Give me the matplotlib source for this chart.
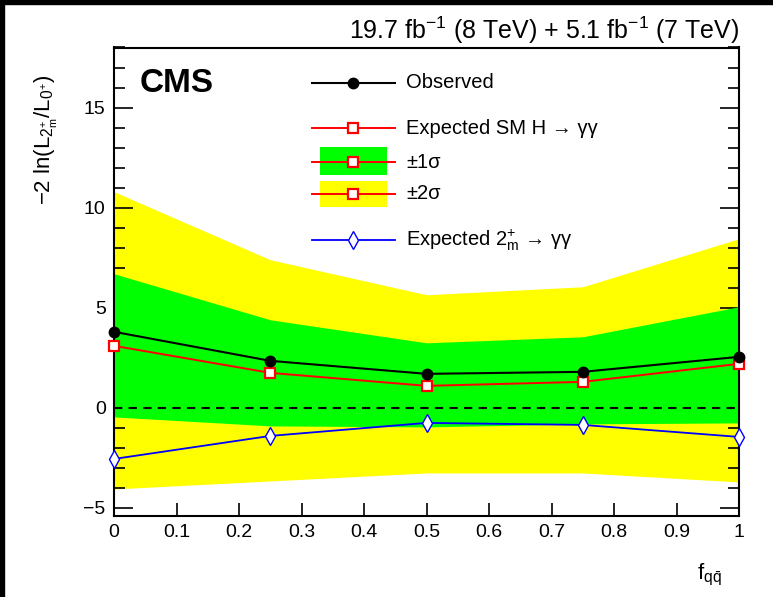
import matplotlib
matplotlib.use("Agg")
import matplotlib.pyplot as plt
from matplotlib.lines import Line2D
from matplotlib.patches import Rectangle
from matplotlib.ticker import MultipleLocator

plt.rcParams["font.family"] = ["Liberation Sans", "DejaVu Sans"]
plt.rcParams["mathtext.fontset"] = "custom"
plt.rcParams["mathtext.rm"] = "Liberation Sans"
plt.rcParams["mathtext.it"] = "Liberation Sans:italic"
plt.rcParams["mathtext.bf"] = "Liberation Sans:bold"
plt.rcParams["mathtext.sf"] = "Liberation Sans"

# Scan points in the q-qbar production fraction
f_qq = [0.0, 0.25, 0.5, 0.75, 1.0]

# Test statistic -2 ln(L_2m+/L_0+)
observed = [3.8, 2.35, 1.7, 1.8, 2.55]
expected_sm = [3.1, 1.75, 1.1, 1.3, 2.2]
expected_2m = [-2.55, -1.4, -0.75, -0.85, -1.45]

# SM expectation bands
sm_1sig_lo = [-0.45, -0.9, -0.95, -0.8, -0.75]
sm_1sig_hi = [6.7, 4.4, 3.25, 3.55, 5.05]
sm_2sig_lo = [-4.05, -3.65, -3.25, -3.25, -3.7]
sm_2sig_hi = [10.8, 7.4, 5.65, 6.05, 8.45]

x_ticks = [0, 0.1, 0.2, 0.3, 0.4, 0.5, 0.6, 0.7, 0.8, 0.9, 1]
x_ticklabels = ["0", "0.1", "0.2", "0.3", "0.4", "0.5", "0.6", "0.7", "0.8", "0.9", "1"]
y_ticks = [-5, 0, 5, 10, 15]

W, H = 773, 597
fig = plt.figure(figsize=(W / 100, H / 100), dpi=100)


def fx(px):
    return px / W


def fy(py):
    return 1 - py / H


# dark frame remnants at the edges of the canvas
fig.patches.append(Rectangle((0, 0), fx(4), 1, transform=fig.transFigure,
                             color="black", zorder=-10))
fig.patches.append(Rectangle((0, fy(4)), 1, 4 / H, transform=fig.transFigure,
                             color="black", zorder=-10))

ax = fig.add_axes([fx(114), fy(516), fx(739) - fx(114), fy(47.5) - fy(516)])

GREEN = "#00ff00"
YELLOW = "#ffff00"

ax.fill_between(f_qq, sm_2sig_lo, sm_2sig_hi, color=YELLOW, lw=0, zorder=1)
ax.fill_between(f_qq, sm_1sig_lo, sm_1sig_hi, color=GREEN, lw=0, zorder=2)
ax.axhline(0, color="black", lw=1.5, ls=(0, (4, 3)), zorder=3)

ax.plot(f_qq, expected_2m, color="#0000ff", lw=1.3, marker="d", ms=9,
        mfc="white", mec="#0000ff", mew=1.0, zorder=4, clip_on=False)
ax.plot(f_qq, expected_sm, color="#ff0000", lw=1.4, marker="s", ms=7,
        mfc="white", mec="#ff0000", mew=1.6, zorder=5, clip_on=False)
ax.plot(f_qq, observed, color="black", lw=1.5, marker="o", ms=7.5,
        mfc="black", mec="black", zorder=6, clip_on=False)

ax.set_xlim(0, 1)
ax.set_ylim(-5.4, 18)
ax.set_xticks(x_ticks)
ax.set_xticklabels(x_ticklabels)
ax.set_yticks(y_ticks)
ax.yaxis.set_minor_locator(MultipleLocator(1))
ax.tick_params(axis="both", which="both", direction="in", width=1.2,
               labelsize=14, colors="black")
ax.tick_params(axis="y", which="major", length=13.5, right=True, pad=6)
ax.tick_params(axis="y", which="minor", length=8, right=True)
ax.tick_params(axis="x", which="major", length=9.5, top=False, pad=6)
for s in ax.spines.values():
    s.set_linewidth(1.5)

# Legend
lx0, lx1, lmk = 312, 395, 353
tx = 406
fs = 14.5
rows = [83, 128, 162, 194, 240]

fig.add_artist(Line2D([fx(lx0), fx(lx1)], [fy(rows[0])] * 2, transform=fig.transFigure,
                      color="black", lw=1.5))
fig.add_artist(Line2D([fx(lmk)], [fy(rows[0])], transform=fig.transFigure,
                      marker="o", ms=7.5, color="black"))
fig.text(fx(tx), fy(rows[0]), "Observed", fontsize=fs, va="center", ha="left")

fig.add_artist(Rectangle((fx(320), fy(175)), fx(387) - fx(320), fy(147) - fy(175),
                         transform=fig.transFigure, color=GREEN, lw=0))
fig.add_artist(Rectangle((fx(320), fy(207)), fx(387) - fx(320), fy(181) - fy(207),
                         transform=fig.transFigure, color=YELLOW, lw=0))
for r in rows[1:4]:
    fig.add_artist(Line2D([fx(lx0), fx(lx1)], [fy(r)] * 2, transform=fig.transFigure,
                          color="#ff0000", lw=1.4))
    fig.add_artist(Line2D([fx(lmk)], [fy(r)], transform=fig.transFigure,
                          marker="s", ms=7, mfc="white", mec="#ff0000", mew=1.6))
fig.text(fx(tx), fy(rows[1]), "Expected SM H \u2192 \u03b3\u03b3", fontsize=fs,
         va="center", ha="left")
fig.text(fx(tx), fy(rows[2]), "\u00b11\u03c3", fontsize=fs, va="center", ha="left")
fig.text(fx(tx), fy(rows[3]), "\u00b12\u03c3", fontsize=fs, va="center", ha="left")

fig.add_artist(Line2D([fx(lx0), fx(lx1)], [fy(rows[4])] * 2, transform=fig.transFigure,
                      color="#0000ff", lw=1.3))
fig.add_artist(Line2D([fx(lmk)], [fy(rows[4])], transform=fig.transFigure,
                      marker="d", ms=9, mfc="white", mec="#0000ff", mew=1.0))
fig.text(fx(tx), fy(rows[4]), "Expected $\\mathrm{2^{+}_{m}}$ \u2192 \u03b3\u03b3",
         fontsize=fs, va="center", ha="left")

# Labels and annotations
fig.text(fx(140), fy(83), "CMS", fontsize=24, fontweight="bold", va="center", ha="left")
fig.text(fx(739), fy(30), r"19.7 fb$^{\mathrm{-1}}$ (8 TeV) + 5.1 fb$^{\mathrm{-1}}$ (7 TeV)",
         fontsize=18, va="center", ha="right")
fig.text(fx(46), fy(74), r"$\mathrm{-2\ ln(L_{2^{+}_{m}}/L_{0^{+}})}$", fontsize=16,
         rotation=90, va="top", ha="center")
fig.text(fx(722), fy(575), r"$\mathrm{f_{q\bar{q}}}$", fontsize=16, va="center", ha="right")

fig.savefig("out.png", dpi=100)
